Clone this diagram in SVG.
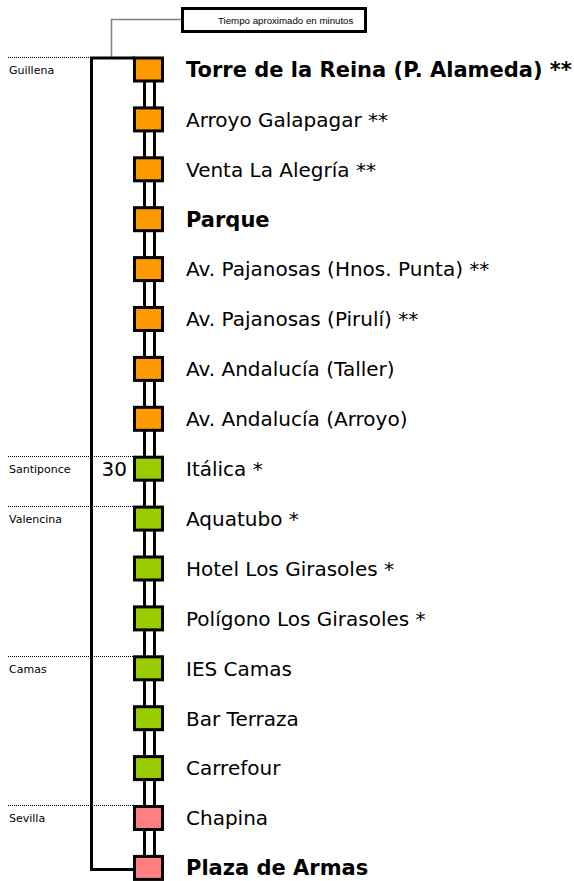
<svg xmlns="http://www.w3.org/2000/svg" width="574" height="881" viewBox="0 0 574 881">
<style>
text{font-family:"DejaVu Sans",Verdana,sans-serif;fill:#000}
.lbl{font-size:20px}
.b{font-weight:bold;font-size:21px}
.reg{font-size:11px}
.sq{stroke:#000;stroke-width:3}
.o{fill:#FF9900}.g{fill:#99CC00}.p{fill:#FF8080}
.con{fill:#fff;stroke:#000;stroke-width:3}
.dot{stroke:#000;stroke-width:1;stroke-dasharray:1 1;fill:none}
</style>
<rect width="574" height="881" fill="#fff"/>
<g id="legend">
<polyline points="181,19.5 111.5,19.5 111.5,58" fill="none" stroke="#808080" stroke-width="1.5"/>
<rect x="182.5" y="8.5" width="183" height="23" fill="#fff" stroke="#000" stroke-width="3"/>
<text x="218" y="24" style="font-family:'Liberation Sans',Arial,sans-serif;font-size:9.7px">Tiempo aproximado en minutos</text>
</g>
<g id="zones">
<line class="dot" x1="8" y1="57.5" x2="90" y2="57.5"/>
<text class="reg" x="9" y="74">Guillena</text>
<line class="dot" x1="8" y1="456.5" x2="133" y2="456.5"/>
<text class="reg" x="9" y="473">Santiponce</text>
<line class="dot" x1="8" y1="506.5" x2="133" y2="506.5"/>
<text class="reg" x="9" y="523">Valencina</text>
<line class="dot" x1="8" y1="656.5" x2="133" y2="656.5"/>
<text class="reg" x="9" y="673">Camas</text>
<line class="dot" x1="8" y1="805.5" x2="133" y2="805.5"/>
<text class="reg" x="9" y="822">Sevilla</text>
<text class="lbl" x="127" y="476" text-anchor="end">30</text>
</g>
<g id="connectors">
<polyline points="135,58 91.5,58 91.5,869.5 135,869.5" fill="none" stroke="#000" stroke-width="3"/>
<rect class="con" x="144.5" y="69.5" width="10" height="798.4"/>
</g>
<g id="s0"><rect class="sq o" x="134.5" y="58" width="28" height="23"/><text class="lbl b" x="186" y="77">Torre de la Reina (P. Alameda) **</text></g>
<g id="s1"><rect class="sq o" x="134.5" y="107.9" width="28" height="23"/><text class="lbl" x="186" y="126.7">Arroyo Galapagar **</text></g>
<g id="s2"><rect class="sq o" x="134.5" y="157.8" width="28" height="23"/><text class="lbl" x="186" y="176.6">Venta La Alegría **</text></g>
<g id="s3"><rect class="sq o" x="134.5" y="207.7" width="28" height="23"/><text class="lbl b" x="186" y="226.5">Parque</text></g>
<g id="s4"><rect class="sq o" x="134.5" y="257.6" width="28" height="23"/><text class="lbl" x="186" y="276.4">Av. Pajanosas (Hnos. Punta) **</text></g>
<g id="s5"><rect class="sq o" x="134.5" y="307.5" width="28" height="23"/><text class="lbl" x="186" y="326.3">Av. Pajanosas (Pirulí) **</text></g>
<g id="s6"><rect class="sq o" x="134.5" y="357.4" width="28" height="23"/><text class="lbl" x="186" y="376.2">Av. Andalucía (Taller)</text></g>
<g id="s7"><rect class="sq o" x="134.5" y="407.3" width="28" height="23"/><text class="lbl" x="186" y="426.1">Av. Andalucía (Arroyo)</text></g>
<g id="s8"><rect class="sq g" x="134.5" y="457.2" width="28" height="23"/><text class="lbl" x="186" y="476">Itálica *</text></g>
<g id="s9"><rect class="sq g" x="134.5" y="507.1" width="28" height="23"/><text class="lbl" x="186" y="525.9">Aquatubo *</text></g>
<g id="s10"><rect class="sq g" x="134.5" y="557" width="28" height="23"/><text class="lbl" x="186" y="575.8">Hotel Los Girasoles *</text></g>
<g id="s11"><rect class="sq g" x="134.5" y="606.9" width="28" height="23"/><text class="lbl" x="186" y="625.7">Polígono Los Girasoles *</text></g>
<g id="s12"><rect class="sq g" x="134.5" y="656.8" width="28" height="23"/><text class="lbl" x="186" y="675.6">IES Camas</text></g>
<g id="s13"><rect class="sq g" x="134.5" y="706.7" width="28" height="23"/><text class="lbl" x="186" y="725.5">Bar Terraza</text></g>
<g id="s14"><rect class="sq g" x="134.5" y="756.6" width="28" height="23"/><text class="lbl" x="186" y="775.4">Carrefour</text></g>
<g id="s15"><rect class="sq p" x="134.5" y="806.5" width="28" height="23"/><text class="lbl" x="186" y="825.3">Chapina</text></g>
<g id="s16"><rect class="sq p" x="134.5" y="856.4" width="28" height="23"/><text class="lbl b" x="186" y="875.2">Plaza de Armas</text></g>
</svg>
